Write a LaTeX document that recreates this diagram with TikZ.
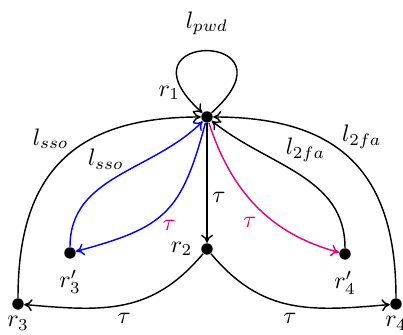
\documentclass[tikz,border=0pt]{standalone}
\usepackage{amsmath,amssymb}
\usepackage{xcolor}
\usepackage{tikz}
\usetikzlibrary{arrows.meta,positioning}
\definecolor{taupink}{RGB}{228,0,127}
\definecolor{ssoblue}{RGB}{0,0,255}

\begin{document}
\begin{tikzpicture}[
    x=0.42pt, y=0.42pt,
    state/.style={circle, fill=black, inner sep=0pt, minimum size=4.8pt},
    arr/.style={-{To[length=3.4pt,width=5pt]}, semithick},
    lbl/.style={font=\normalsize}
]
\useasboundingbox (0,0) rectangle (403,335);

\node[state, label={[label distance=6pt]155:$r_1$}] (r1) at (207,218) {};
\node[state, label=left:$r_2$] (r2) at (207,86) {};
\node[state, label={[label distance=1pt]below:$r'_3$}] (r3p) at (70,82) {};
\node[state, label={[label distance=1pt]below:$r'_4$}] (r4p) at (345,81) {};
\node[state, label={[label distance=-1pt]below:$r_3$}] (r3) at (18,31) {};
\node[state, label={[label distance=-1pt]below:$r_4$}] (r4) at (396,31) {};

% loop on r1
\draw[arr] (r1) to[out=42, in=138, min distance=52pt]
    node[above=3pt, lbl] {$l_{pwd}$} (r1);
\draw[arr] (r1) -- node[right, lbl, pos=0.62, inner sep=2pt] {$\tau$} (r2);

% inner pair, left side
\draw[arr, draw=ssoblue] (r1) to[out=255, in=15, looseness=1.3]
    node[pos=0.55, below right, lbl, inner sep=1pt, text=taupink] {$\tau$} (r3p);
\draw[arr, draw=ssoblue] (r3p) to[out=90, in=225]
    node[pos=0.55, above left, lbl, inner sep=0.5pt] {$l_{sso}$} (r1);

% inner pair, right side
\draw[arr, draw=taupink] (r1) to[out=288, in=165]
    node[pos=0.56, below left, lbl, inner sep=1pt, xshift=-2pt, text=taupink] {$\tau$} (r4p);
\draw[arr] (r4p) to[out=90, in=-39]
    node[pos=0.6, above right, lbl, inner sep=1pt] {$l_{2fa}$} (r1);

% outer arcs
\draw[arr] (r3) to[out=90, in=180, looseness=1.25]
    node[pos=0.55, above left, lbl, inner sep=1pt] {$l_{sso}$} (r1);
\draw[arr] (r4) to[out=90, in=0, looseness=1.25]
    node[pos=0.56, above right, lbl, inner sep=0.5pt] {$l_{2fa}$} (r1);
\draw[arr] (r2) to[out=230, in=-5, looseness=1.1]
    node[pos=0.5, below, lbl] {$\tau$} (r3);
\draw[arr] (r2) to[out=-50, in=185, looseness=1.1]
    node[pos=0.5, below, lbl] {$\tau$} (r4);
\end{tikzpicture}
\end{document}
